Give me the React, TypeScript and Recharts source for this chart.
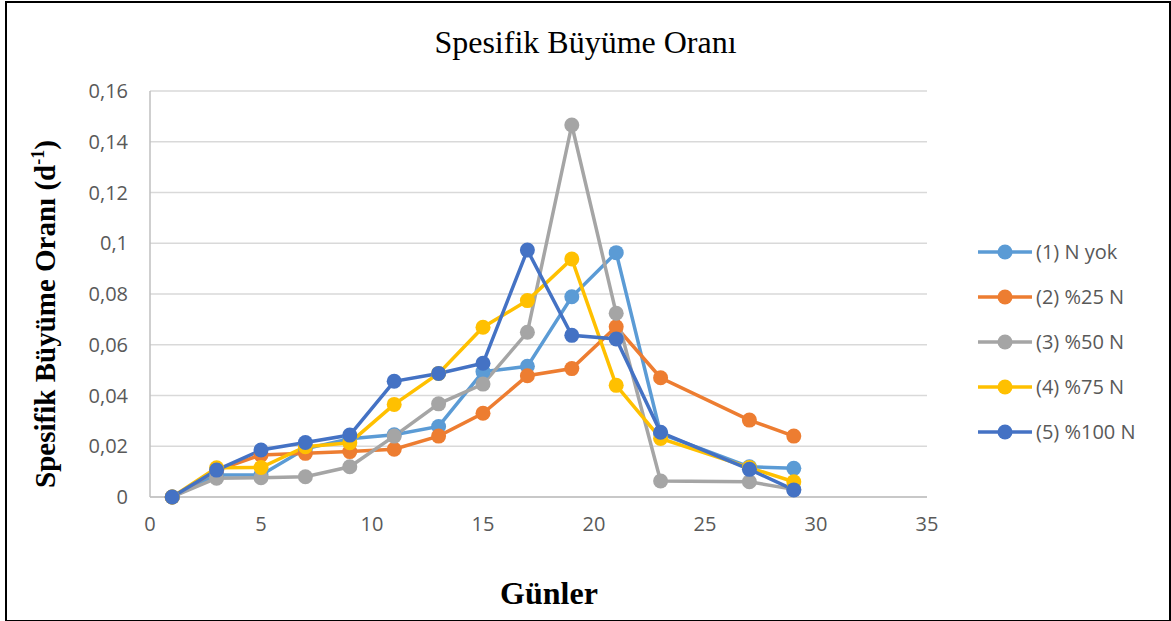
import React from "react";
import { LineChart, Line, XAxis, YAxis, CartesianGrid } from "recharts";

const days = [1, 3, 5, 7, 9, 11, 13, 15, 17, 19, 21, 23, 27, 29];
const nYok = [0, 0.0087, 0.0087, 0.019, 0.023, 0.0245, 0.0278, 0.0494, 0.0515, 0.0789, 0.0963, 0.025, 0.0119, 0.0113];
const n25 = [0, 0.0105, 0.0166, 0.0172, 0.0179, 0.0188, 0.024, 0.033, 0.0478, 0.0506, 0.0671, 0.047, 0.0303, 0.024];
const n50 = [0, 0.0074, 0.0076, 0.008, 0.0119, 0.024, 0.0367, 0.0445, 0.0649, 0.1466, 0.0724, 0.0063, 0.006, 0.003];
const n75 = [0, 0.0115, 0.0116, 0.0198, 0.0214, 0.0365, 0.0487, 0.0669, 0.0774, 0.0938, 0.044, 0.0231, 0.0116, 0.006];
const n100 = [0, 0.0106, 0.0185, 0.0215, 0.0244, 0.0456, 0.0487, 0.0527, 0.0973, 0.0637, 0.0623, 0.0255, 0.0109, 0.0028];

const seriesNames = ["(1) N yok", "(2) %25 N", "(3) %50 N", "(4) %75 N", "(5) %100 N"];
const seriesValues = [nYok, n25, n50, n75, n100];
const seriesColors = ["#5B9BD5", "#ED7D31", "#A5A5A5", "#FFC000", "#4472C4"];
const xTicks = [0, 5, 10, 15, 20, 25, 30, 35];
const yTicks = [0, 0.02, 0.04, 0.06, 0.08, 0.1, 0.12, 0.14, 0.16];

const data = days.map((d, i) => {
  const row: Record<string, number> = { day: d };
  seriesValues.forEach((vals, s) => {
    row["s" + s] = vals[i];
  });
  return row;
});

const fmt = (v: number) => String(Number(v.toFixed(2))).replace(".", ",");

const sans = "'Open Sans', 'Liberation Sans', sans-serif";
const tickFont = { fontFamily: sans, fontSize: 20, fill: "#595959" };

export default function App() {
  return (
    <div style={{ position: "absolute", left: 0, top: 0, width: 1171, height: 621, background: "#fff" }}>
      <div style={{ position: "absolute", left: 5, top: 1, width: 1162, height: 617, border: "2px solid #000", boxSizing: "content-box" }} />
      <div style={{ position: "absolute", left: 0, width: 1171, top: 24, textAlign: "center", fontFamily: "'Liberation Serif', serif", fontSize: 32, color: "#000" }}>
        Spesifik Büyüme Oranı
      </div>
      <div
        style={{
          position: "absolute",
          left: 45,
          top: 314,
          transform: "translate(-50%, -50%) rotate(-90deg)",
          whiteSpace: "nowrap",
          fontFamily: "'Liberation Serif', serif",
          fontWeight: "bold",
          fontSize: 29,
          color: "#000",
        }}
      >
        Spesifik Büyüme Oranı (d<sup style={{ fontSize: 18 }}>-1</sup>)
      </div>
      <div style={{ position: "absolute", left: 449, width: 200, top: 575, textAlign: "center", fontFamily: "'Liberation Serif', serif", fontWeight: "bold", fontSize: 32, color: "#000" }}>
        Günler
      </div>
      <div style={{ position: "absolute", left: 0, top: 0 }}>
        <LineChart width={1171} height={621} data={data} margin={{ top: 91, right: 244, bottom: 0, left: 0 }}>
          <CartesianGrid vertical={false} stroke="#d9d9d9" strokeWidth={1.5} />
          <XAxis
            dataKey="day"
            type="number"
            domain={[0, 35]}
            ticks={xTicks}
            interval={0}
            tick={tickFont}
            tickLine={false}
            tickSize={0}
            tickMargin={20}
            stroke="#bfbfbf"
            strokeWidth={1.5}
            height={124}
          />
          <YAxis
            type="number"
            domain={[0, 0.16]}
            ticks={yTicks}
            interval={0}
            tickFormatter={fmt}
            tick={tickFont}
            tickLine={false}
            tickSize={0}
            tickMargin={22}
            stroke="#bfbfbf"
            strokeWidth={1.5}
            width={150}
          />
          {seriesNames.map((n, i) => (
            <Line
              key={n}
              name={n}
              dataKey={"s" + i}
              stroke={seriesColors[i]}
              strokeWidth={3.5}
              dot={{ r: 7.5, fill: seriesColors[i], stroke: seriesColors[i], strokeWidth: 0 }}
              activeDot={false}
              isAnimationActive={false}
            />
          ))}
        </LineChart>
      </div>
      <div style={{ position: "absolute", left: 978, top: 229, fontFamily: sans, fontSize: 20, color: "#595959" }}>
        {seriesNames.map((n, i) => (
          <div key={n} style={{ display: "flex", alignItems: "center", height: 45 }}>
            <svg width={55} height={20} style={{ marginRight: 3 }}>
              <line x1={0} y1={10} x2={54} y2={10} stroke={seriesColors[i]} strokeWidth={3.5} />
              <circle cx={27} cy={10} r={7.5} fill={seriesColors[i]} />
            </svg>
            <span>{n}</span>
          </div>
        ))}
      </div>
    </div>
  );
}
